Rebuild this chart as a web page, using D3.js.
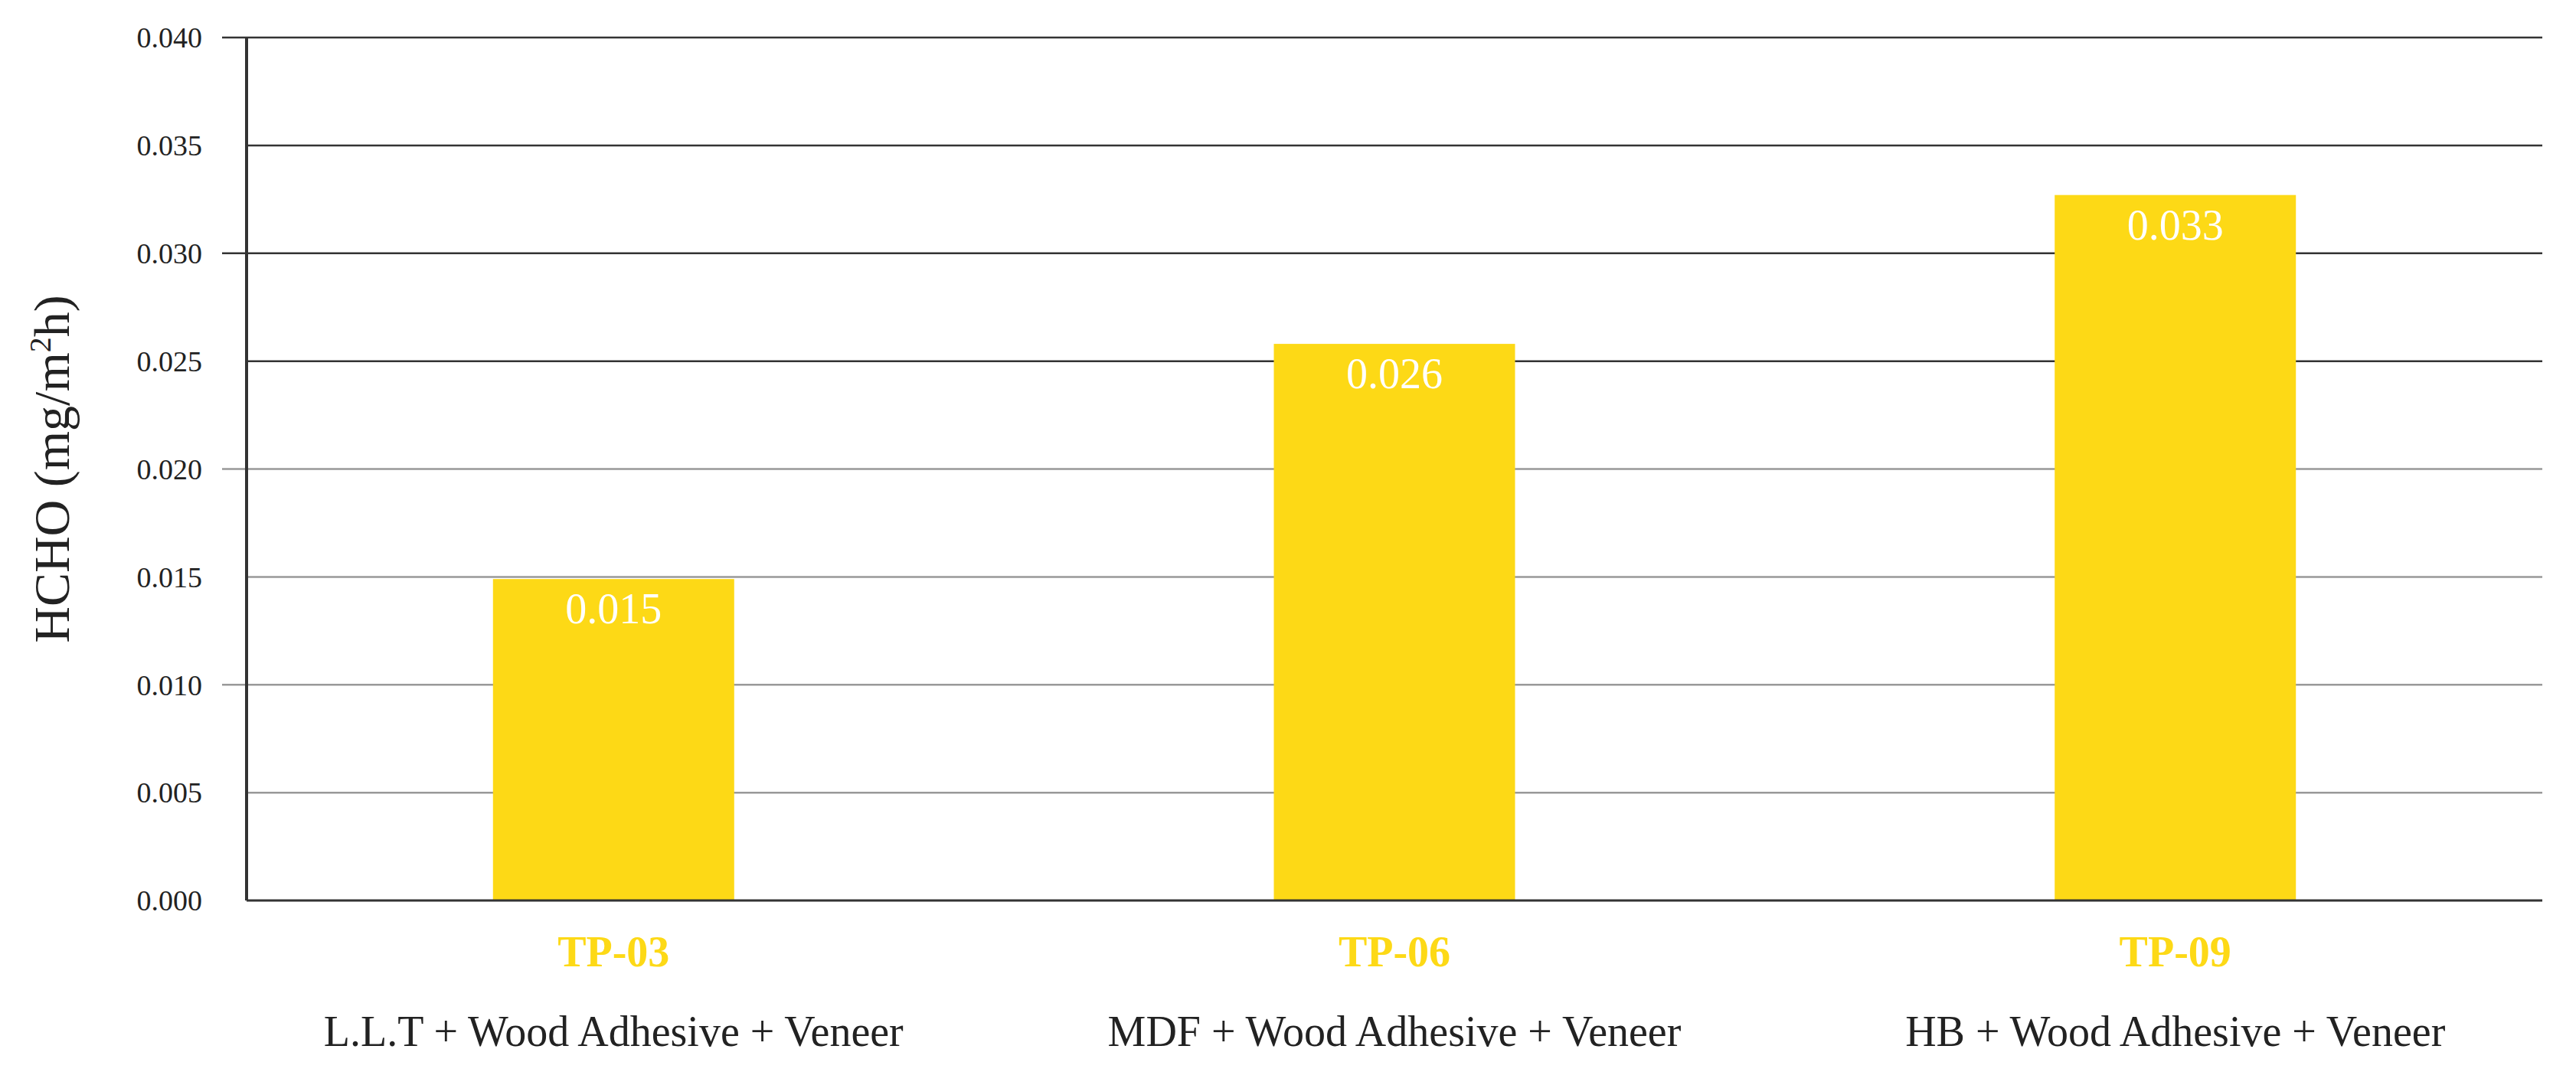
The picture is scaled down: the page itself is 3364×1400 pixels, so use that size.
<!DOCTYPE html>
<html>
<head>
<meta charset="utf-8">
<script src="https://cdn.jsdelivr.net/npm/d3@7"></script>
<style>
  body { margin: 0; background: #fff; }
  text { font-family: "Liberation Serif", "Times New Roman", serif; }
</style>
</head>
<body>
<svg id="chart" width="3364" height="1400"></svg>
<script>
var codes = ["TP-03", "TP-06", "TP-09"];
var names = ["L.L.T + Wood Adhesive + Veneer", "MDF + Wood Adhesive + Veneer", "HB + Wood Adhesive + Veneer"];
var values = [0.0149, 0.0258, 0.0327];
var labels = ["0.015", "0.026", "0.033"];
var yTicks = [0, 0.005, 0.010, 0.015, 0.020, 0.025, 0.030, 0.035, 0.040];

var svg = d3.select("#chart");
var plotL = 322, plotR = 3320, plotT = 49, plotB = 1176;
var yellow = "#fdd916";

var x = d3.scalePoint().domain(codes).range([plotL, plotR]).padding(0.47);
var y = d3.scaleLinear().domain([0, 0.04]).range([plotB, plotT]);
var barW = 315;

// gridlines, upper ones darker
svg.append("g").selectAll("line").data(yTicks.slice(1)).join("line")
    .attr("x1", d => (Math.round(d * 1000) % 10 === 0) ? plotL - 32 : plotL)
    .attr("x2", plotR)
    .attr("y1", d => y(d)).attr("y2", d => y(d))
    .attr("stroke", d => d >= 0.025 ? "#333" : "#999")
    .attr("stroke-width", 2.5);

svg.append("g").selectAll("text").data(yTicks).join("text")
    .attr("x", plotL - 58).attr("y", d => y(d)).attr("dy", "0.35em")
    .attr("text-anchor", "end").attr("font-size", 38).attr("fill", "#222")
    .text(d => d3.format(".3f")(d));

// bars
svg.append("g").selectAll("rect").data(values).join("rect")
    .attr("x", (d, i) => x(codes[i]) - barW / 2)
    .attr("width", barW)
    .attr("y", d => y(d))
    .attr("height", d => plotB - y(d))
    .attr("fill", yellow);

svg.append("g").selectAll("text").data(values).join("text")
    .attr("x", (d, i) => x(codes[i])).attr("y", d => y(d) + 58)
    .attr("text-anchor", "middle").attr("font-size", 56).attr("fill", "#fff")
    .text((d, i) => labels[i]);

// axes lines
svg.append("line").attr("x1", plotL).attr("x2", plotL).attr("y1", plotT).attr("y2", plotB)
    .attr("stroke", "#333").attr("stroke-width", 4);
svg.append("line").attr("x1", plotL).attr("x2", plotR).attr("y1", plotB).attr("y2", plotB)
    .attr("stroke", "#333").attr("stroke-width", 3);

// category labels
svg.append("g").selectAll("text").data(codes).join("text")
    .attr("x", d => x(d)).attr("y", 1262)
    .attr("text-anchor", "middle").attr("font-size", 56).attr("font-weight", "bold")
    .attr("fill", yellow).text(d => d);
svg.append("g").selectAll("text").data(names).join("text")
    .attr("x", (d, i) => x(codes[i])).attr("y", 1366)
    .attr("text-anchor", "middle").attr("font-size", 56).attr("fill", "#222")
    .text(d => d);

// y title
var t = svg.append("text")
    .attr("transform", "translate(" + 90 + "," + ((plotT + plotB) / 2) + ") rotate(-90)")
    .attr("text-anchor", "middle").attr("font-size", 66).attr("fill", "#222");
t.append("tspan").text("HCHO (mg/m");
t.append("tspan").attr("font-size", 40).attr("dy", -24).text("2");
t.append("tspan").attr("dy", 24).text("h)");
</script>
</body>
</html>
